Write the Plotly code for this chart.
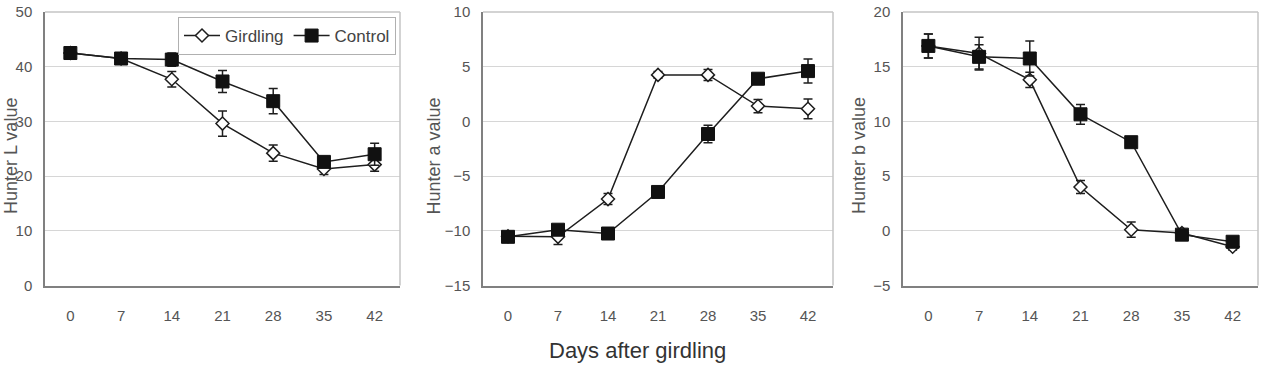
import plotly.graph_objects as go

W, H = 1269, 366

days = [0, 7, 14, 21, 28, 35, 42]

L_girdling = [42.5, 41.5, 37.7, 29.6, 24.2, 21.3, 22.1]
L_girdling_err = [1.0, 0.8, 1.4, 2.3, 1.5, 1.0, 1.2]
L_control = [42.5, 41.5, 41.3, 37.3, 33.7, 22.6, 24.0]
L_control_err = [1.0, 1.0, 1.2, 2.0, 2.3, 1.0, 2.0]

a_girdling = [-10.5, -10.55, -7.1, 4.25, 4.25, 1.4, 1.15]
a_girdling_err = [0.3, 0.7, 0.5, 0.3, 0.5, 0.6, 0.9]
a_control = [-10.55, -9.9, -10.25, -6.45, -1.15, 3.9, 4.6]
a_control_err = [0.3, 0.3, 0.3, 0.3, 0.8, 0.3, 1.1]

b_girdling = [16.9, 16.2, 13.8, 4.0, 0.1, -0.2, -1.45]
b_girdling_err = [1.1, 1.5, 0.7, 0.6, 0.7, 0.3, 0.3]
b_control = [16.9, 15.9, 15.75, 10.65, 8.1, -0.35, -1.0]
b_control_err = [1.1, 1.1, 1.6, 0.9, 0.4, 0.3, 0.3]

y_titles = ["Hunter L value", "Hunter a value", "Hunter b value"]
y_ranges = [(0, 50), (-15, 10), (-5, 20)]
y_ticks = [[0, 10, 20, 30, 40, 50], [-15, -10, -5, 0, 5, 10], [-5, 0, 5, 10, 15, 20]]
x_title = "Days after girdling"

panels_px = [(45, 400), (483, 833), (903, 1258)]
title_x_px = [11, 433.5, 859]
top_px, bot_px = 12, 285.5

LINE = "#1e1e1e"
TICKC = "#555555"
FONT = "Liberation Sans, Arial, sans-serif"

fig = go.Figure()

series = [
    (L_girdling, L_girdling_err, L_control, L_control_err),
    (a_girdling, a_girdling_err, a_control, a_control_err),
    (b_girdling, b_girdling_err, b_control, b_control_err),
]

for i, (g, ge, c, ce) in enumerate(series):
    xa = "x" if i == 0 else f"x{i+1}"
    ya = "y" if i == 0 else f"y{i+1}"
    fig.add_trace(go.Scatter(
        x=days, y=g, mode="lines+markers", name="Girdling",
        xaxis=xa, yaxis=ya, showlegend=(i == 0),
        line=dict(color=LINE, width=1.5),
        marker=dict(symbol="diamond", size=10, color="white",
                    line=dict(color=LINE, width=1.5)),
        error_y=dict(type="data", array=ge, color=LINE, thickness=1.5, width=4.5),
    ))
    fig.add_trace(go.Scatter(
        x=days, y=c, mode="lines+markers", name="Control",
        xaxis=xa, yaxis=ya, showlegend=(i == 0),
        line=dict(color=LINE, width=1.5),
        marker=dict(symbol="square", size=13, color="#111111",
                    line=dict(color="#111111", width=1)),
        error_y=dict(type="data", array=ce, color=LINE, thickness=1.5, width=4.5),
    ))

ydom = [1 - bot_px / H, 1 - top_px / H]
layout = dict(
    width=W, height=H, margin=dict(l=0, r=0, t=0, b=0, autoexpand=False),
    paper_bgcolor="white", plot_bgcolor="white",
    font=dict(family=FONT, color=TICKC, size=15),
    legend=dict(x=178 / W, y=1 - 17 / H, xanchor="left", yanchor="top",
                orientation="h", bgcolor="white", bordercolor="#b0b0b0",
                borderwidth=1, font=dict(size=17, color="#444444"),
                itemwidth=36, tracegroupgap=0),
)
shapes = []
annotations = []
for i, (l, r) in enumerate(panels_px):
    sfx = "" if i == 0 else str(i + 1)
    layout[f"xaxis{sfx}"] = dict(
        domain=[l / W, r / W], range=[-3.5, 45.5], tickvals=days,
        showgrid=False, zeroline=False, showline=True, linecolor="#808080",
        linewidth=1.5, ticks="outside", ticklen=16, tickcolor="rgba(0,0,0,0)",
        anchor=f"y{sfx}", tickfont=dict(size=15, color=TICKC), fixedrange=True,
    )
    lo, hi = y_ranges[i]
    layout[f"yaxis{sfx}"] = dict(
        domain=ydom, range=[lo, hi], tickvals=y_ticks[i],
        showgrid=True, gridcolor="#d6d6d6", gridwidth=1, zeroline=False,
        showline=True, linecolor="#808080", linewidth=1.5,
        ticks="outside", ticklen=8, tickcolor="rgba(0,0,0,0)",
        anchor=f"x{sfx}", tickfont=dict(size=15, color=TICKC), fixedrange=True,
    )
    # lighter top/right frame
    shapes.append(dict(type="line", xref="paper", yref="paper",
                       x0=l / W, x1=r / W, y0=ydom[1], y1=ydom[1],
                       line=dict(color="#c4c4c4", width=1.5)))
    shapes.append(dict(type="line", xref="paper", yref="paper",
                       x0=r / W, x1=r / W, y0=ydom[0], y1=ydom[1],
                       line=dict(color="#c4c4c4", width=1.5)))
    annotations.append(dict(
        text=y_titles[i], xref="paper", yref="paper",
        x=title_x_px[i] / W, y=1 - 156 / H, xanchor="center", yanchor="middle",
        textangle=-90, showarrow=False, font=dict(size=18, color="#555555"),
    ))

annotations.append(dict(
    text=x_title, xref="paper", yref="paper",
    x=637.5 / W, y=1 - 350 / H, xanchor="center", yanchor="middle",
    showarrow=False, font=dict(size=22, color="#333333"),
))
layout["shapes"] = shapes
layout["annotations"] = annotations
fig.update_layout(**layout)
fig.write_html("out.html")
